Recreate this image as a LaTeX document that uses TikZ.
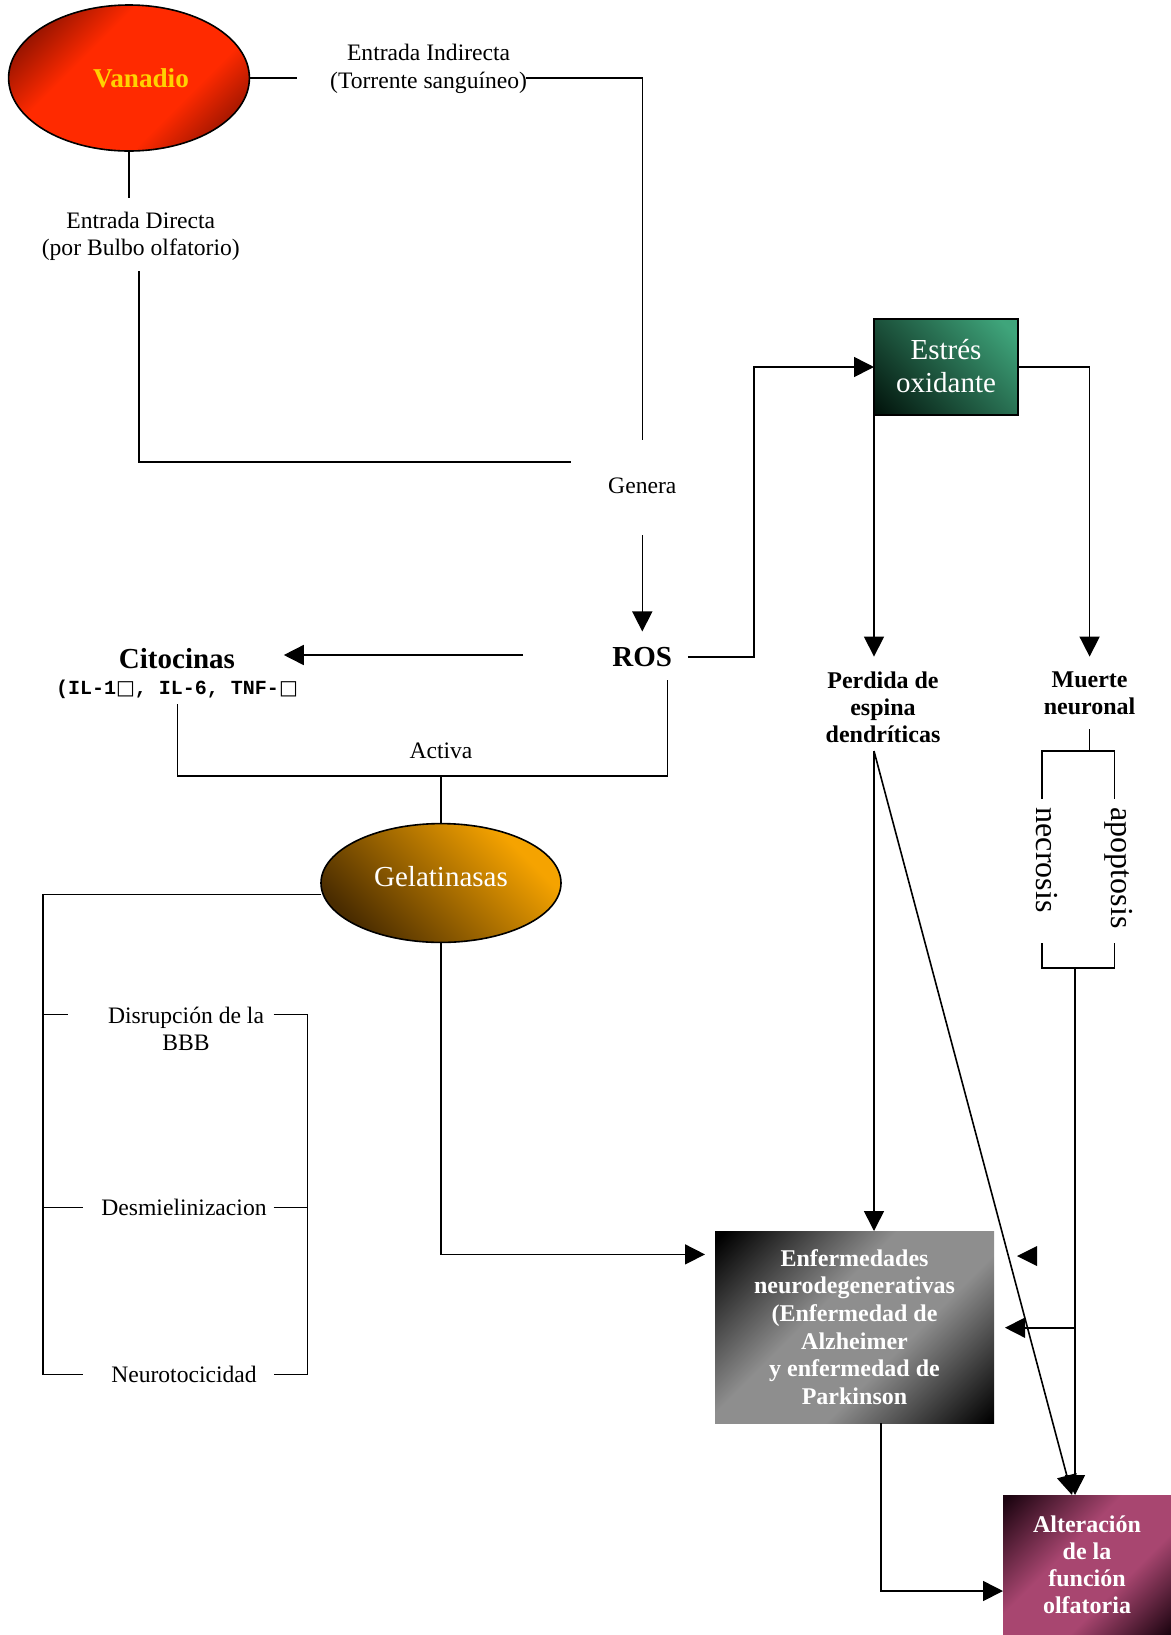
\documentclass[tikz,border=0pt]{standalone}
\usepackage{fontspec}
\setmainfont{Liberation Serif}
\newfontfamily\ilfont{Liberation Mono}
\newfontfamily\glyphfont{DejaVu Sans}
\usetikzlibrary{shapes.geometric, arrows.meta}

\definecolor{vanred}{HTML}{FF2A00}
\definecolor{vandark}{HTML}{7A0E00}
\definecolor{vangold}{HTML}{FFD200}
\definecolor{estlight}{HTML}{3FA57B}
\definecolor{estdark}{HTML}{02140C}
\definecolor{gellight}{HTML}{F5A300}
\definecolor{geldark}{HTML}{4A2C00}
\definecolor{enfgray}{HTML}{8E8E8E}
\definecolor{altpink}{HTML}{A84670}
\definecolor{altdark}{HTML}{1C0410}

\pgfdeclarehorizontalshading{vanshade}{100bp}{color(0bp)=(vandark); color(20bp)=(vandark); color(38bp)=(vanred); color(64bp)=(vanred); color(82bp)=(vandark); color(100bp)=(vandark)}
\pgfdeclarehorizontalshading{estshade}{100bp}{color(0bp)=(estdark); color(16bp)=(estdark); color(80bp)=(estlight); color(100bp)=(estlight)}
\pgfdeclarehorizontalshading{gelshade}{100bp}{color(0bp)=(geldark); color(25bp)=(geldark); color(72bp)=(gellight); color(100bp)=(gellight)}
\pgfdeclarehorizontalshading{enfshade}{100bp}{color(0bp)=(black); color(16bp)=(black); color(42bp)=(enfgray); color(60bp)=(enfgray); color(85bp)=(black); color(100bp)=(black)}
\pgfdeclarehorizontalshading{altshade}{100bp}{color(0bp)=(altdark); color(16bp)=(altdark); color(42bp)=(altpink); color(62bp)=(altpink); color(85bp)=(altdark); color(100bp)=(altdark)}

\begin{document}
\begin{tikzpicture}[x=0.5pt, y=-0.5pt, line width=0.8pt,
    arr/.style={-{Triangle[length=10pt, width=10pt]}},
    txt/.style={font=\fontsize{11.8}{13.6}\selectfont, align=center, inner sep=0pt},
    boldtxt/.style={font=\fontsize{12}{13.6}\selectfont\bfseries, align=center, inner sep=0pt},
    bigbold/.style={font=\fontsize{14.5}{17}\selectfont\bfseries, inner sep=0pt},
    rottxt/.style={font=\fontsize{16}{19}\selectfont, rotate=-90, inner sep=0pt},
    shadedbox/.style={rectangle, outer sep=0pt, shade, text=white, align=center}]
  \useasboundingbox (0,0) rectangle (1171,1635);

  % main shapes
  \node [draw, ellipse, minimum width=120.4pt, minimum height=73pt, inner sep=0pt, shade, shading=vanshade, shading angle=-45, text=vangold, font=\fontsize{13.6}{16}\selectfont\bfseries] (vanadio) at (129,78) {\hspace*{12pt}Vanadio};
  \node [draw, shadedbox, minimum width=72pt, minimum height=48pt, shading=estshade, shading angle=45, font=\fontsize{14.5}{16.7}\selectfont] (estres) at (946,367) {\raisebox{1pt}{Estrés}\\\raisebox{1pt}{oxidante}};
  \node [draw, ellipse, minimum width=120pt, minimum height=59.4pt, inner sep=0pt, outer sep=0pt, shade, shading=gelshade, shading angle=45, text=white, font=\fontsize{14.5}{17}\selectfont] (gelat) at (441,883) {\raisebox{6.5pt}{Gelatinasas}};
  \node [shadedbox, minimum width=139.5pt, minimum height=96pt, shading=enfshade, shading angle=-45, font=\fontsize{12}{13.8}\selectfont\bfseries] (enferm) at (854.5,1327) {Enfermedades\\neurodegenerativas\\(Enfermedad de\\Alzheimer\\y enfermedad de\\Parkinson};
  \node [shadedbox, minimum width=84pt, minimum height=70pt, shading=altshade, shading angle=-45, font=\fontsize{12}{13.5}\selectfont\bfseries] (alter) at (1087,1565) {Alteración\\de la\\función\\olfatoria};

  % labels
  \node [txt] (indirecta) at (428.6,68.8) {Entrada Indirecta\\(Torrente sanguíneo)};
  \node [txt] (directa) at (140.8,236.7) {Entrada Directa\\(por Bulbo olfatorio)};
  \node [txt] (genera) at (642.3,486) {Genera};
  \node [bigbold] (ros) at (642.3,657) {ROS};
  \node [bigbold] (cito) at (177,659) {Citocinas};
  \node [font=\ilfont\bfseries\fontsize{10}{12}\selectfont, inner sep=0pt] (citoil) at (177,689) {(IL-1{\glyphfont\mdseries □}, IL-6, TNF-{\glyphfont\mdseries □}};
  \node [txt] (activa) at (441,751) {Activa};
  \node [boldtxt] (perdida) at (883,707) {Perdida de\\espina\\dendríticas};
  \node [boldtxt] (muerte) at (1089.6,693) {Muerte\\neuronal};
  \node [rottxt] (necrosis) at (1046.7,860) {necrosis};
  \node [rottxt] (apoptosis) at (1118.3,868) {apoptosis};
  \node [txt] (disrup) at (186,1028.6) {Disrupción de la\\BBB};
  \node [txt] (desmiel) at (184,1207.5) {Desmielinizacion};
  \node [txt] (neurot) at (184,1374.3) {Neurotocicidad};

  % entrada
  \coordinate (indA) at (297,78);
  \coordinate (indB) at (526,78);
  \coordinate (genT) at (642.3,440);
  \coordinate (dirA) at (129,198);
  \coordinate (dirB) at (138.7,271);
  \coordinate (genL) at (571.4,462);
  \coordinate (genB) at (642.3,535);
  \draw (vanadio.east) -- (indA);
  \draw (indB) -| (genT);
  \draw (vanadio.south) -- (dirA);
  \draw (dirB) |- (genL);
  \draw[arr, shorten >=7.5pt] (genB) -- (ros.north);

  % ROS
  \coordinate (rosL) at (523,655);
  \draw[arr, shorten >=24pt] (rosL) -- (cito.east |- rosL);
  \draw[arr] ([xshift=7.5pt]ros.east) -- ++(66,0) |- (estres.west);
  \draw[arr, shorten >=7pt] (estres.east) -| (muerte.north);
  \draw[arr, shorten >=7pt] (estres.south west) -- (estres.south west |- perdida.north);

  % perdida de espina
  \coordinate (perdB) at (874,751);
  \draw[arr] (perdB) -- (perdB |- enferm.north);
  \draw[arr] (perdB) -- ([xshift=-7.5pt]alter.north);

  % muerte neuronal
  \coordinate (mrtB) at (1089.6,751);
  \coordinate (nUp) at (1041.7,799);
  \coordinate (aUp) at (1114.3,799);
  \coordinate (nDn) at (1041.7,943);
  \coordinate (aDn) at (1114.3,943);
  \coordinate (stem) at (1075,968);
  \coordinate (branch) at (1075,1327.7);
  \coordinate (stray) at (1017,1256);
  \draw[shorten <=7pt] (muerte.south) -- (mrtB);
  \draw (nUp) |- (mrtB) -| (aUp);
  \draw (nDn) |- (stem) -| (aDn);
  \draw[arr] (stem) -- (stem |- alter.north);
  \draw[arr, shorten >=5.5pt] (branch) -- (branch -| enferm.east);
  \fill (stray) -- ++(20,-10) -- ++(0,20) -- cycle;
  \draw[arr] ([xshift=13.25pt]enferm.south) |- ([yshift=-13pt]alter.west);

  % citocinas / gelatinasas
  \coordinate (citB) at (177.3,704);
  \coordinate (actJ) at (441,775.8);
  \coordinate (rosB) at (667.3,680);
  \draw (citB) |- (actJ) -| (rosB);
  \draw (actJ) -- (gelat.north);
  \draw[arr, shorten >=5pt] (gelat.south) |- ([yshift=36.3pt]enferm.west);

  % efectos de gelatinasas
  \coordinate (bxTop) at (42.8,894.6);
  \coordinate (tk1) at (67.8,1014.5);
  \coordinate (tk2) at (83.4,1207.5);
  \coordinate (tk3) at (83.4,1374.3);
  \coordinate (rk1) at (273.6,1014.5);
  \coordinate (rk2) at (273.6,1207.5);
  \coordinate (rk3) at (273.6,1374.3);
  \coordinate (rx) at (307.6,1014.5);
  \draw (gelat.west |- bxTop) -- (bxTop) |- (tk3);
  \draw (bxTop |- tk1) -- (tk1);
  \draw (bxTop |- tk2) -- (tk2);
  \draw (rk1) -- (rx) |- (rk3);
  \draw (rk2) -- (rk2 -| rx);
\end{tikzpicture}
\end{document}
